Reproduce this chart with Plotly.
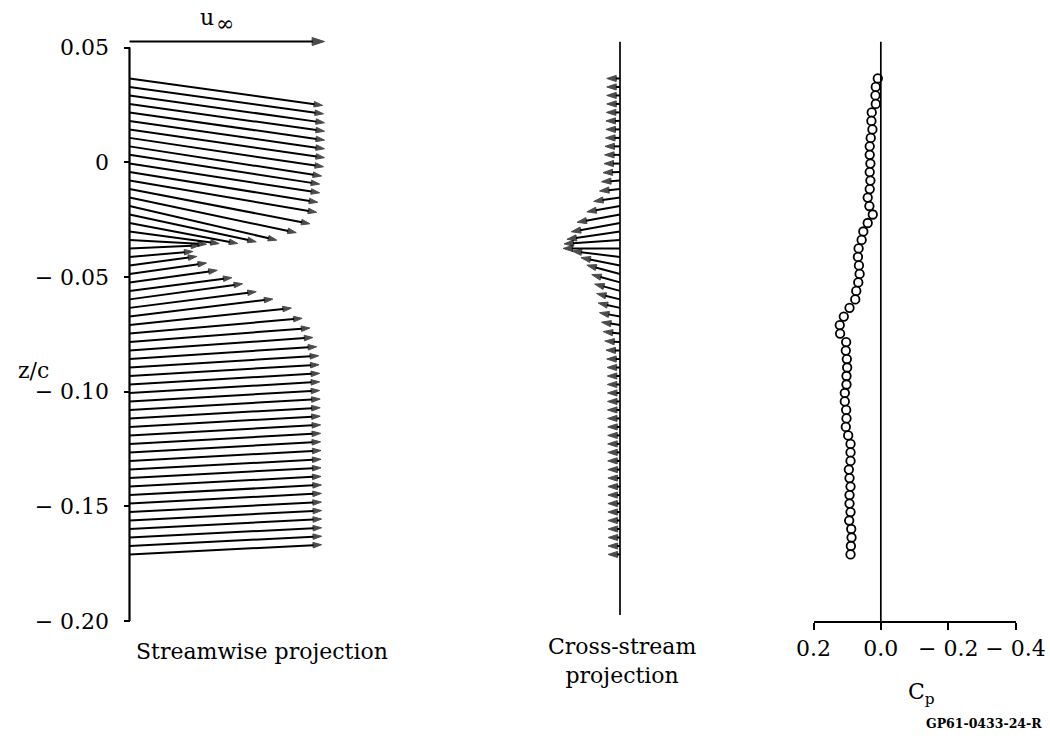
import plotly.graph_objects as go

# ---- survey data -----------------------------------------------------------
# z/c stations of the rake (top to bottom)
z_c = [
    0.0365, 0.0328, 0.0291, 0.0254, 0.0217, 0.0180, 0.0143, 0.0106, 0.0069, 0.0032,
    -0.0006, -0.0043, -0.0080, -0.0117, -0.0154, -0.0191, -0.0228, -0.0265, -0.0302, -0.0339,
    -0.0376, -0.0413, -0.0450, -0.0487, -0.0524, -0.0561, -0.0598, -0.0635, -0.0673, -0.0710,
    -0.0747, -0.0784, -0.0821, -0.0858, -0.0895, -0.0932, -0.0969, -0.1006, -0.1043, -0.1080,
    -0.1117, -0.1154, -0.1191, -0.1228, -0.1265, -0.1302, -0.1340, -0.1377, -0.1414, -0.1451,
    -0.1488, -0.1525, -0.1562, -0.1599, -0.1636, -0.1673, -0.1710,
]

# streamwise projection: u/u_inf and w/u_inf
u_stream = [
    0.990, 0.995, 1.000, 1.000, 1.000, 1.000, 1.000, 0.995, 0.985, 0.975,
    0.975, 0.965, 0.960, 0.925, 0.855, 0.755, 0.650, 0.555, 0.460, 0.395,
    0.360, 0.325, 0.345, 0.395, 0.450, 0.525, 0.580, 0.650, 0.735, 0.830,
    0.885, 0.925, 0.940, 0.960, 0.970, 0.972, 0.975, 0.975, 0.975, 0.978,
    0.978, 0.978, 0.980, 0.980, 0.980, 0.982, 0.982, 0.982, 0.982, 0.984,
    0.984, 0.984, 0.985, 0.985, 0.985, 0.985, 0.985,
]
w_stream = [
    -0.138, -0.138, -0.140, -0.140, -0.142, -0.143, -0.145, -0.148, -0.152, -0.150,
    -0.150, -0.155, -0.163, -0.178, -0.180, -0.175, -0.140, -0.105, -0.062, -0.022,
    0.015, 0.028, 0.046, 0.056, 0.062, 0.068, 0.080, 0.083, 0.090, 0.087,
    0.078, 0.072, 0.067, 0.063, 0.060, 0.058, 0.057, 0.057, 0.056, 0.056,
    0.055, 0.055, 0.054, 0.054, 0.054, 0.053, 0.053, 0.053, 0.052, 0.052,
    0.052, 0.051, 0.051, 0.051, 0.050, 0.050, 0.050,
]

# cross-stream projection: v/u_inf and w/u_inf
v_cross = [
    -0.068, -0.068, -0.068, -0.068, -0.070, -0.072, -0.072, -0.074, -0.077, -0.079,
    -0.082, -0.087, -0.095, -0.105, -0.135, -0.170, -0.220, -0.250, -0.272, -0.287,
    -0.292, -0.246, -0.200, -0.170, -0.145, -0.130, -0.120, -0.112, -0.105, -0.095,
    -0.086, -0.078, -0.072, -0.068, -0.066, -0.065, -0.065, -0.064, -0.064, -0.064,
    -0.064, -0.063, -0.063, -0.063, -0.063, -0.063, -0.062, -0.062, -0.062, -0.062,
    -0.062, -0.062, -0.062, -0.061, -0.061, -0.061, -0.061,
]
w_cross = [
    0.0, 0.0, 0.0, 0.0, 0.0, 0.0, 0.0, 0.0, 0.0, 0.0,
    0.0, -0.003, -0.006, -0.010, -0.020, -0.030, -0.040, -0.045, -0.040, -0.020,
    0.000, 0.030, 0.040, 0.045, 0.040, 0.035, 0.030, 0.025, 0.020, 0.015,
    0.010, 0.005, 0.002, 0.0, 0.0, 0.0, 0.0, 0.0, 0.0, 0.0,
    0.0, 0.0, 0.0, 0.0, 0.0, 0.0, 0.0, 0.0, 0.0, 0.0,
    0.0, 0.0, 0.0, 0.0, 0.0, 0.0, 0.0,
]

# pressure coefficient at the same stations
cp = [
    0.009, 0.015, 0.016, 0.015, 0.027, 0.028, 0.025, 0.030, 0.033, 0.033,
    0.031, 0.033, 0.031, 0.033, 0.039, 0.034, 0.024, 0.039, 0.052, 0.057,
    0.066, 0.068, 0.065, 0.063, 0.067, 0.073, 0.076, 0.093, 0.110, 0.122,
    0.121, 0.103, 0.104, 0.101, 0.100, 0.102, 0.102, 0.107, 0.107, 0.103,
    0.102, 0.104, 0.097, 0.090, 0.090, 0.090, 0.095, 0.093, 0.090, 0.093,
    0.093, 0.090, 0.094, 0.088, 0.087, 0.089, 0.090,
]

u_inf = 1.0

y_ticks = [0.05, 0.0, -0.05, -0.10, -0.15, -0.20]
y_tick_text = ["0.05", "0", "\u2212 0.05", "\u2212 0.10", "\u2212 0.15", "\u2212 0.20"]
cp_ticks = [0.2, 0.0, -0.2, -0.4]
cp_tick_text = ["0.2", "0.0", "\u2212 0.2", "\u2212 0.4"]

# ---- page geometry (pixels) ------------------------------------------------
W, H = 1050, 740
PX_PER_Z = 2294.0          # vertical pixels per unit z/c
PX_PER_U = 195.0           # horizontal pixels per unit velocity (u_inf)
K = PX_PER_U / PX_PER_Z    # velocity -> z/c so vector angles are true on screen
Y_BOTTOM_PX, Y_TOP_PX = 621.0, 30.0
Z_MIN = -0.20
Z_MAX = Z_MIN + (Y_BOTTOM_PX - Y_TOP_PX) / PX_PER_Z
AXIS_X_PX = 129.5          # streamwise origin / z/c axis
CROSS_X_PX = 620.0         # cross-stream origin
U_REF_Z = 0.0526           # height of the u_inf reference vector
LINE_TOP_Z = 0.0525

FONT = "DejaVu Serif"


def px(x):
    return x / W


def py(y):
    return 1 - y / H


def vector_trace(dx, dz, xaxis, head=9, width=2.0):
    xs, ys, sizes = [], [], []
    for z0, a, b in zip(z_c, dx, dz):
        xs += [0.0, a, None]
        ys += [z0, z0 + b * K, None]
        sizes += [0, head, 0]
    return go.Scatter(
        x=xs, y=ys, xaxis=xaxis, yaxis="y", mode="lines+markers",
        line=dict(color="black", width=width),
        marker=dict(symbol="arrow", angleref="previous", size=sizes,
                    color="black", line=dict(width=1.0, color="black")),
        hoverinfo="skip", cliponaxis=False,
    )


fig = go.Figure()

# streamwise projection vectors
fig.add_trace(vector_trace(u_stream, w_stream, "x"))
# free-stream reference vector
fig.add_trace(go.Scatter(
    x=[0.0, u_inf], y=[U_REF_Z, U_REF_Z], xaxis="x", yaxis="y",
    mode="lines+markers", line=dict(color="black", width=2),
    marker=dict(symbol="arrow", angleref="previous", size=[0, 13],
                color="black", line=dict(width=1.0, color="black")),
    hoverinfo="skip", cliponaxis=False,
))
# cross-stream projection vectors
fig.add_trace(vector_trace(v_cross, w_cross, "x2", head=10, width=2.0))
# pressure coefficient
fig.add_trace(go.Scatter(
    x=cp, y=z_c, xaxis="x3", yaxis="y", mode="markers",
    marker=dict(symbol="circle", size=8.5, color="white",
                line=dict(color="black", width=1.8)),
    hoverinfo="skip", cliponaxis=False,
))

shapes = [
    # z/c axis line
    dict(type="line", xref="x", yref="y", x0=0, x1=0, y0=Z_MIN, y1=0.05,
         line=dict(color="black", width=2.2)),
    # cross-stream reference line
    dict(type="line", xref="x2", yref="y", x0=0, x1=0, y0=-0.1974, y1=LINE_TOP_Z,
         line=dict(color="black", width=1.7)),
    # Cp = 0 line
    dict(type="line", xref="x3", yref="y", x0=0, x1=0, y0=Z_MIN, y1=LINE_TOP_Z,
         line=dict(color="black", width=1.7)),
]

text_font = dict(family=FONT, size=22, color="black")


def label(text, x, y, font=text_font, xanchor="center"):
    return dict(text=text, x=px(x), y=py(y), xref="paper", yref="paper",
                xanchor=xanchor, yanchor="middle", showarrow=False, font=font)


annotations = [
    label("u", 207, 18),
    label("\u221e", 225, 23),
    label("z/c", 33, 370),
    label("Streamwise projection", 262, 651),
    label("Cross-stream<br>projection", 622, 661),
    label("C<sub>p</sub>", 921, 693),
    label("<b>GP61-0433-24-R</b>", 1044, 723,
          font=dict(family=FONT, size=12.5, color="black"), xanchor="right"),
]

x_left, x_right = 100.0, 345.0
c_left, c_right = 530.0, 640.0

fig.update_layout(
    width=W, height=H,
    margin=dict(l=0, r=0, t=0, b=0, autoexpand=False),
    paper_bgcolor="white", plot_bgcolor="white",
    showlegend=False,
    font=dict(family=FONT, size=22, color="black"),
    xaxis=dict(domain=[px(x_left), px(x_right)],
               range=[(x_left - AXIS_X_PX) / PX_PER_U, (x_right - AXIS_X_PX) / PX_PER_U],
               visible=False, anchor="y", automargin=False),
    xaxis2=dict(domain=[px(c_left), px(c_right)],
                range=[(c_left - CROSS_X_PX) / PX_PER_U, (c_right - CROSS_X_PX) / PX_PER_U],
                visible=False, anchor="y", automargin=False),
    xaxis3=dict(domain=[px(813.5), px(1015.5)], range=[0.2, -0.4], anchor="y",
                showline=True, linewidth=1.8, linecolor="black",
                ticks="outside", ticklen=7, tickwidth=1.6, tickcolor="black",
                tickvals=cp_ticks, ticktext=cp_tick_text, tickangle=0,
                ticklabeloverflow="allow",
                tickfont=dict(family=FONT, size=22, color="black"),
                showgrid=False, zeroline=False, automargin=False),
    yaxis=dict(domain=[py(Y_BOTTOM_PX), py(Y_TOP_PX)], range=[Z_MIN, Z_MAX],
               anchor="free", position=px(AXIS_X_PX),
               showline=False, ticks="outside", ticklen=6, tickwidth=1.6,
               tickcolor="black", tickvals=y_ticks, ticktext=y_tick_text,
               tickangle=0,
               tickfont=dict(family=FONT, size=22, color="black"),
               ticklabelstandoff=10, ticklabeloverflow="allow",
               showgrid=False, zeroline=False, automargin=False),
    shapes=shapes,
    annotations=annotations,
)

fig.write_html("out.html")
